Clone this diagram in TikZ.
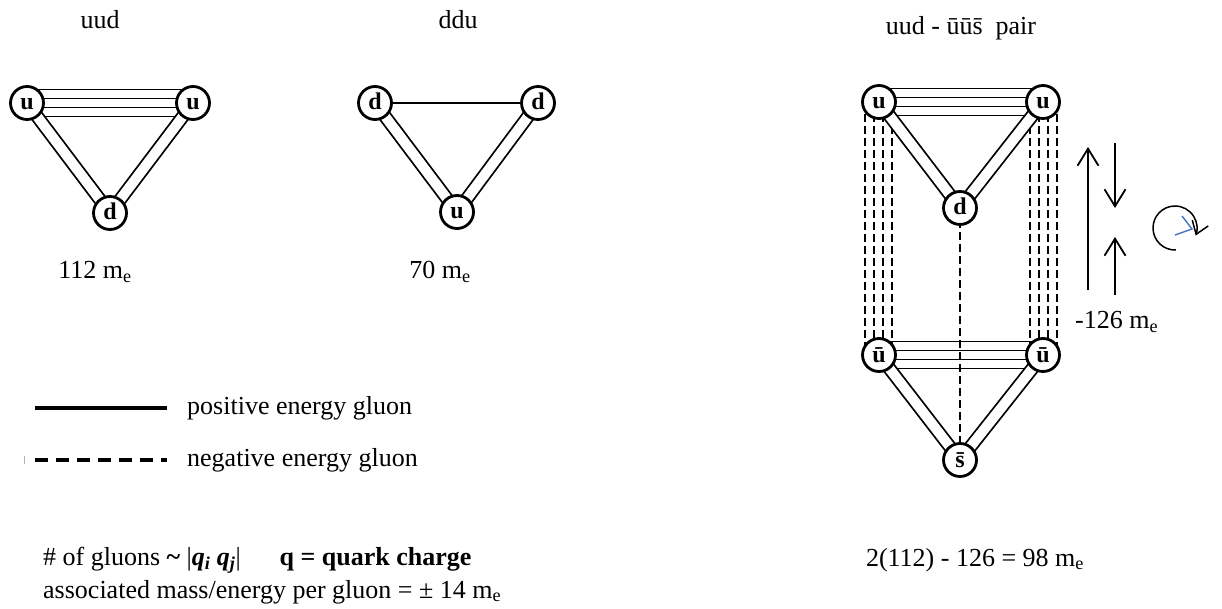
\documentclass[tikz,border=0pt]{standalone}
\usepackage{fontspec}
\setmainfont{Liberation Serif}
\usetikzlibrary{arrows.meta, backgrounds}
\definecolor{penBlue}{RGB}{68,114,196}

\begin{document}
\begin{tikzpicture}[x=1pt, y=-1pt,
    font=\fontsize{26}{31}\selectfont,
    quark/.style={circle, draw, line width=2.8pt, fill=white, minimum size=33pt,
                  inner sep=0pt, text height=16pt, text depth=2pt,
                  font=\fontsize{24}{28}\selectfont\bfseries},
    gluon/.style={line width=1.8pt},
    gluon2/.style={gluon, double, double distance=10pt},
    neg/.style={line width=1.8pt, dash pattern=on 8pt off 4pt},
    lbl/.style={inner sep=0pt},
    tip/.style={line width=1.8pt, -{Straight Barb[length=17pt, width=21pt]}}
  ]
  \useasboundingbox (0,0) rectangle (1222,609);

  % uud
  \node[lbl] (tUud) at (100,20) {uud};
  \node[quark] (uA) at (27,103) {u};
  \node[quark] (uB) at (193,103) {u};
  \node[quark] (dA) at (110,213) {d};
  \node[lbl] (mUud) at (95,272) {112 m\textsubscript{e}};

  % ddu
  \node[lbl] (tDdu) at (458,20) {ddu};
  \node[quark] (dB) at (375,103) {d};
  \node[quark] (dC) at (538,103) {d};
  \node[quark] (uC) at (457,212) {u};
  \node[lbl] (mDdu) at (440,272) {70 m\textsubscript{e}};

  % uud - anti pair
  \node[lbl] (tPair) at (961,28) {uud - ūū\={s}\ \ pair};
  \node[quark] (uD) at (879,102) {u};
  \node[quark] (uE) at (1043,102) {u};
  \node[quark] (dD) at (960,208) {d};
  \node[quark] (aU) at (879,355) {ū};
  \node[quark] (aV) at (1043,355) {ū};
  \node[quark] (aS) at (960,460) {\={s}};
  \node[lbl, anchor=west] (mNeg) at (1075,322) {-126 m\textsubscript{e}};
  \node[lbl] (mSum) at (975,560) {2(112) - 126 = 98 m\textsubscript{e}};

  \begin{scope}[on background layer]
    % negative gluons
    \foreach \o in {-14,-5,4,13}
      \draw[neg] ([xshift=\o]uD.center) -- ([xshift=\o]aU.center);
    \foreach \o in {-13,-4,5,14}
      \draw[neg] ([xshift=\o]uE.center) -- ([xshift=\o]aV.center);
    \draw[neg] (dD.center) -- (aS.center);
    % positive gluons
    \foreach \a/\b in {uA/uB, uD/uE, aU/aV}
      \foreach \o in {-13.5,-4.5,4.5,13.5}
        \draw[gluon] ([yshift=\o]\a.center) -- ([yshift=\o]\b.center);
    \foreach \a/\b in {uA/dA, uB/dA, dB/uC, dC/uC, uD/dD, uE/dD, aU/aS, aV/aS}
      \draw[gluon2] (\a.center) -- (\b.center);
    \draw[gluon] (dB) -- (dC);
  \end{scope}

  % spin arrows
  \coordinate (sTop) at (1088,147);
  \coordinate (sBot) at (1088,290);
  \draw[tip, {Straight Barb[length=17pt, width=21pt]}-] (sTop) -- (sBot);
  \coordinate (dnA) at (1115,143);
  \coordinate (dnB) at (1115,208);
  \draw[tip] (dnA) -- (dnB);
  \coordinate (upA) at (1115,295);
  \coordinate (upB) at (1115,237);
  \draw[tip] (upA) -- (upB);
  \coordinate (rot) at (1175,228);
  \draw[line width=1.5pt, -{Straight Barb[length=12pt, width=17pt]}]
       ([shift={(-88:22pt)}]rot) arc[start angle=-88, end angle=-380, radius=22pt];
  \draw[penBlue, line width=1.4pt] (1175,235) -- (1192,229) -- (1182,216);

  % legend
  \coordinate (lpA) at (35,408);
  \coordinate (lpB) at (167,408);
  \draw[line width=4pt] (lpA) -- (lpB);
  \node[lbl, anchor=west] (lPos) at (187,408) {positive energy gluon};
  \coordinate (lnA) at (35,460);
  \coordinate (lnB) at (167,460);
  \draw[line width=4pt, dash pattern=on 13pt off 8pt] (lnA) -- (lnB);
  \draw[gray!60, line width=1pt] (24,456) -- (24,464);
  \node[lbl, anchor=west] (lNeg) at (187,460) {negative energy gluon};

  \node[lbl, anchor=west] (nGl) at (43,560)
       {\# of gluons \textbf{\textasciitilde}\ |\textbf{\textit{q\textsubscript{i}\ q\textsubscript{j}}}|\hspace{1.5em}\textbf{q = quark charge}};
  \node[lbl, anchor=west] (nEn) at (43,592)
       {associated mass/energy per gluon = ± 14 m\textsubscript{e}};
\end{tikzpicture}
\end{document}
